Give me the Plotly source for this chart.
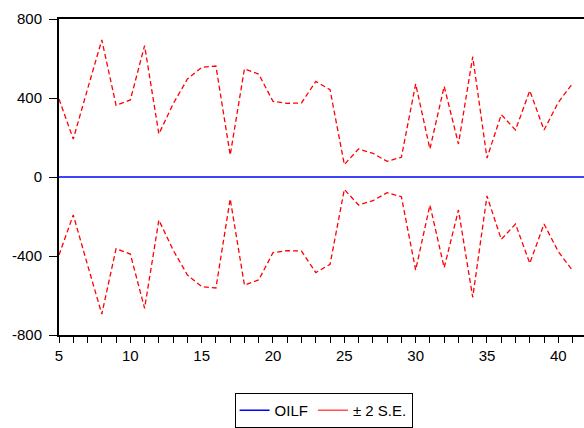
import plotly.graph_objects as go

# Observation periods and forecast band (+/- 2 standard errors)
periods = list(range(5, 42))
se2_band = [395, 192, 445, 694, 363, 390, 665, 218, 370, 496, 555, 562, 111,
            548, 521, 383, 373, 375, 484, 442, 63, 142, 120, 79, 100, 471,
            142, 459, 167, 609, 96, 316, 238, 437, 238, 378, 474]

# Forecast series (flat at zero), running to the edge of the frame
oilf_periods = list(range(5, 43))
oilf_values = [0] * len(oilf_periods)

y_ticks = [-800, -400, 0, 400, 800]
y_tick_text = ["-800", "-400", "0", "400", "800"]

upper = [v for v in se2_band]
lower = [-v for v in se2_band]

band_line = dict(color="#ff0000", width=1.3, dash="5px,3px")

fig = go.Figure()
fig.add_trace(go.Scatter(x=oilf_periods, y=oilf_values, mode="lines",
                         line=dict(color="#0000ff", width=1.6),
                         name="OILF"))
fig.add_trace(go.Scatter(x=periods, y=upper, mode="lines", line=band_line,
                         name="\u00b1 2 S.E.", legendgroup="se", showlegend=False))
fig.add_trace(go.Scatter(x=periods, y=lower, mode="lines", line=band_line,
                         name="\u00b1 2 S.E.", legendgroup="se", showlegend=False))
# legend key for the band, drawn as a plain solid stroke
fig.add_trace(go.Scatter(x=[None], y=[None], mode="lines",
                         line=dict(color="#ff5050", width=1.3),
                         name="\u00b1 2 S.E.", legendgroup="se"))

font = dict(family="Liberation Sans, Arial, sans-serif", size=15, color="black")

fig.update_layout(
    width=584, height=428,
    margin=dict(l=59, r=0, t=19, b=93),
    paper_bgcolor="white", plot_bgcolor="white",
    font=font,
    showlegend=True,
    legend=dict(orientation="h", x=0.504, xanchor="center", y=-0.185, yanchor="top",
                bordercolor="black", borderwidth=1, font=font,
                itemwidth=30, tracegroupgap=0),
)
fig.update_xaxes(range=[5, 41.8], showgrid=False, zeroline=False,
                 showline=True, linecolor="black", linewidth=2, mirror=True,
                 ticks="outside", ticklen=6, tickwidth=1, tickcolor="black",
                 tickmode="array", tickvals=list(range(5, 42)),
                 ticktext=[str(p) if p % 5 == 0 else "" for p in range(5, 42)])
fig.update_yaxes(range=[-800, 800], showgrid=False, zeroline=False,
                 showline=True, linecolor="black", linewidth=2, mirror=False,
                 ticks="outside", ticklen=8, tickwidth=1, tickcolor="black",
                 ticklabelstandoff=4,
                 tickmode="array", tickvals=y_ticks, ticktext=y_tick_text)

fig.write_html("out.html")
